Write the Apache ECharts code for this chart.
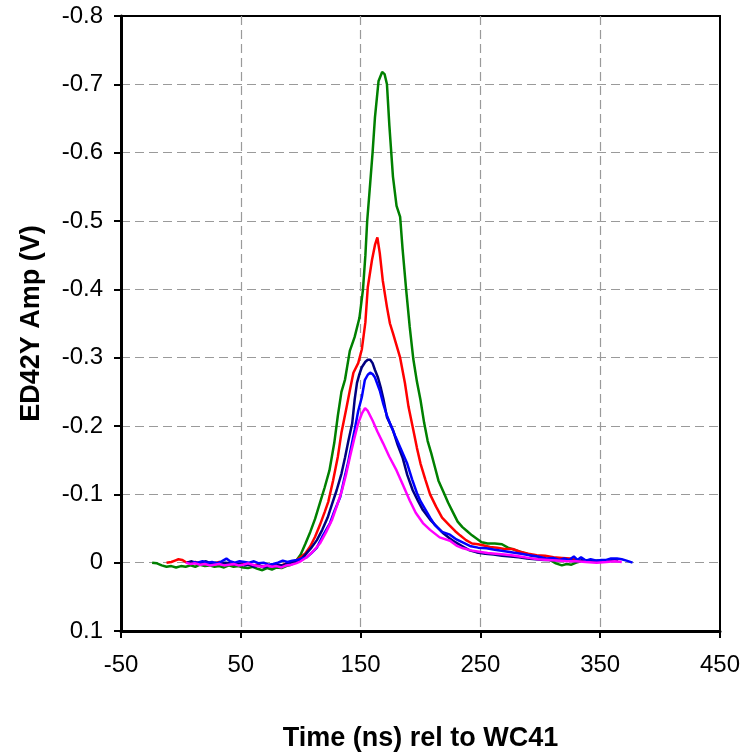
<!DOCTYPE html>
<html>
<head>
<meta charset="utf-8">
<script src="https://cdn.jsdelivr.net/npm/echarts@6/dist/echarts.min.js"></script>
<style>
html,body{margin:0;padding:0;background:#fff;}
#chart{width:753px;height:753px;}
</style>
</head>
<body>
<div id="chart"></div>
<script>
const xTicks = [-50, 50, 150, 250, 350, 450];
const yTicks = [-0.8, -0.7, -0.6, -0.5, -0.4, -0.3, -0.2, -0.1, 0, 0.1];
const seriesNames = ['green', 'red', 'navy', 'blue', 'magenta'];

const greenData = [[-24,0],[-20,0.001],[-16,0.004],[-12,0.006],[-8,0.005],[-4,0.007],[0,0.005],[4,0.006],[8,0.004],[12,0.006],[16,0.003],[20,0.005],[24,0.004],[28,0.006],[32,0.005],[36,0.007],[40,0.004],[44,0.006],[48,0.005],[52,0.007],[56,0.008],[60,0.006],[64,0.009],[68,0.011],[72,0.008],[76,0.010],[80,0.007],[84,0.008],[88,0.005],[92,0.003],[96,-0.002],[100,-0.012],[104,-0.028],[108,-0.045],[112,-0.064],[116,-0.087],[120,-0.110],[124,-0.135],[128,-0.175],[131,-0.215],[134,-0.250],[137,-0.268],[141,-0.310],[145,-0.330],[149,-0.358],[152,-0.400],[154,-0.450],[155.5,-0.500],[158,-0.555],[160,-0.600],[162,-0.652],[165,-0.705],[168,-0.718],[170,-0.715],[172,-0.700],[174,-0.640],[177,-0.565],[180,-0.522],[183,-0.506],[185,-0.460],[188,-0.400],[191,-0.345],[194,-0.298],[197,-0.265],[200,-0.238],[203,-0.205],[206,-0.178],[209,-0.160],[212,-0.140],[215,-0.120],[219,-0.104],[223,-0.088],[227,-0.074],[231,-0.060],[235,-0.052],[239,-0.046],[243,-0.040],[247,-0.035],[251,-0.030],[256,-0.028],[262,-0.028],[268,-0.027],[273,-0.022],[278,-0.019],[283,-0.016],[288,-0.013],[293,-0.010],[298,-0.009],[303,-0.006],[308,-0.004],[313,0.001],[318,0.004],[322,0.002],[326,0.003],[330,0.000],[334,-0.002]];

const redData = [[-12,0.000],[-8,-0.001],[-5,-0.003],[-2,-0.005],[1,-0.004],[4,-0.001],[8,0.000],[12,-0.001],[16,0.001],[20,0.000],[24,0.002],[28,0.001],[32,-0.001],[36,0.002],[40,0.001],[44,0.003],[48,0.002],[52,0.001],[56,0.003],[60,0.004],[64,0.003],[68,0.006],[72,0.004],[76,0.005],[80,0.003],[84,0.004],[88,0.001],[92,0.000],[96,-0.003],[100,-0.008],[104,-0.014],[108,-0.024],[112,-0.038],[116,-0.055],[120,-0.074],[123,-0.089],[127,-0.120],[131,-0.155],[134,-0.190],[138,-0.225],[141,-0.252],[144,-0.278],[148,-0.292],[151,-0.312],[154,-0.352],[156,-0.403],[159.5,-0.443],[162,-0.465],[164,-0.476],[166,-0.453],[168.5,-0.413],[172,-0.374],[174.5,-0.350],[177,-0.336],[180,-0.318],[183,-0.300],[187,-0.263],[190,-0.228],[194,-0.194],[197,-0.168],[200,-0.145],[204,-0.122],[208,-0.100],[213,-0.082],[218,-0.066],[224,-0.055],[229,-0.046],[233,-0.040],[238,-0.033],[243,-0.028],[248,-0.027],[253,-0.025],[258,-0.023],[264,-0.022],[270,-0.020],[277,-0.020],[283,-0.016],[290,-0.013],[297,-0.011],[304,-0.010],[311,-0.008],[318,-0.007],[325,-0.006],[330,-0.005]];

const navyData = [[5,0.000],[9,-0.002],[13,0.001],[17,0.000],[21,-0.002],[25,0.001],[29,0.000],[33,0.002],[37,0.000],[41,0.001],[45,0.003],[49,0.002],[53,0.004],[57,0.003],[61,0.006],[65,0.004],[69,0.007],[73,0.005],[77,0.006],[81,0.003],[85,0.004],[89,0.001],[93,0.000],[97,-0.002],[101,-0.006],[105,-0.014],[109,-0.022],[113.5,-0.033],[118,-0.048],[122.5,-0.066],[126,-0.085],[130,-0.106],[134,-0.130],[137,-0.154],[140,-0.180],[143,-0.204],[145,-0.238],[147,-0.263],[149,-0.276],[151,-0.286],[154,-0.294],[156,-0.297],[158,-0.297],[160,-0.292],[162,-0.282],[164.5,-0.271],[167,-0.255],[169,-0.240],[172,-0.213],[177,-0.194],[181,-0.172],[185,-0.154],[189,-0.128],[193.5,-0.106],[198,-0.090],[202,-0.077],[208,-0.063],[214,-0.052],[219,-0.043],[224,-0.036],[229,-0.030],[235,-0.024],[241,-0.018],[247,-0.015],[254,-0.013],[261,-0.012],[268,-0.010],[275,-0.009],[282,-0.008],[289,-0.006],[296,-0.005],[303,-0.004],[310,-0.004],[317,-0.003],[324,-0.003],[330,-0.002],[336,-0.004],[342,-0.002],[348,-0.003],[354,-0.002],[360,-0.004],[365,-0.003]];

const blueData = [[10,-0.001],[14,0.000],[18,-0.002],[22,0.000],[26,-0.001],[30,0.001],[34,-0.002],[38,-0.006],[41,-0.002],[45,0.000],[49,-0.002],[53,-0.001],[57,0.000],[61,-0.002],[65,0.001],[69,0.000],[73,0.003],[77,0.002],[81,0.000],[85,-0.003],[89,-0.001],[93,-0.003],[97,-0.004],[101,-0.006],[105,-0.008],[109,-0.014],[113.5,-0.022],[118,-0.038],[124.5,-0.058],[128,-0.075],[133,-0.096],[136,-0.120],[139.5,-0.146],[142,-0.168],[145,-0.194],[148,-0.222],[151,-0.242],[153.5,-0.267],[156,-0.275],[158,-0.278],[160,-0.276],[162,-0.271],[166,-0.252],[169,-0.232],[172,-0.215],[174.5,-0.204],[179,-0.185],[184,-0.165],[188.7,-0.146],[193,-0.122],[197,-0.102],[200,-0.090],[204,-0.078],[208,-0.066],[212,-0.055],[218,-0.045],[224.6,-0.041],[230,-0.034],[236,-0.029],[242,-0.024],[248,-0.022],[255,-0.021],[262,-0.019],[269,-0.017],[277,-0.015],[284,-0.013],[291,-0.011],[298,-0.009],[305,-0.006],[311,-0.007],[316,-0.004],[320,-0.006],[324,-0.004],[328,-0.009],[331,-0.004],[334,-0.008],[338,-0.003],[342,-0.005],[347,-0.003],[351,-0.004],[355,-0.004],[359,-0.006],[364,-0.006],[368,-0.005],[372,-0.003],[377,0.000]];

const magentaData = [[4,0.000],[8,0.002],[12,0.001],[16,0.003],[20,0.002],[24,0.004],[28,0.003],[32,0.002],[36,0.004],[40,0.003],[44,0.002],[48,0.004],[52,0.003],[56,0.001],[60,0.003],[64,0.005],[68,0.006],[72,0.004],[76,0.006],[80,0.005],[84,0.007],[88,0.004],[92,0.003],[96,0.001],[100,-0.002],[105,-0.008],[110,-0.016],[116,-0.028],[121,-0.044],[126,-0.062],[130,-0.082],[134.5,-0.106],[138,-0.130],[141,-0.154],[144.5,-0.180],[148,-0.204],[151,-0.218],[153.7,-0.226],[156,-0.222],[160,-0.208],[164,-0.192],[168.7,-0.175],[174,-0.155],[180,-0.135],[185,-0.115],[191,-0.091],[196,-0.073],[202,-0.058],[208,-0.048],[216,-0.037],[224.6,-0.032],[230,-0.025],[235.5,-0.021],[242,-0.018],[249,-0.016],[256,-0.014],[263,-0.013],[270,-0.012],[276,-0.011],[283,-0.009],[290,-0.007],[298,-0.005],[306,-0.004],[314,-0.003],[322,-0.002],[330,-0.002],[338,-0.001],[347,0.000],[355,-0.001],[362,-0.002],[368,-0.001]];

const seriesData = [greenData, redData, navyData, blueData, magentaData];
const seriesColors = ['#008000', '#FF0000', '#000080', '#0000FF', '#FF00FF'];

const font = '"Liberation Sans", Arial, sans-serif';
const chart = echarts.init(document.getElementById('chart'), null, {renderer: 'canvas'});
chart.setOption({
  animation: false,
  backgroundColor: '#fff',
  grid: {left: 121, right: 33, top: 16, bottom: 122, containLabel: false, outerBoundsMode: 'none',
    show: true, borderColor: '#000', borderWidth: 2, backgroundColor: 'transparent'},
  xAxis: {
    type: 'value', min: xTicks[0], max: xTicks[xTicks.length - 1], interval: 100,
    name: 'Time (ns) rel to WC41', nameLocation: 'middle', nameGap: 94,
    nameTextStyle: {fontFamily: font, fontSize: 27, fontWeight: 'bold', color: '#000'},
    axisLine: {onZero: false, lineStyle: {color: '#000', width: 3}},
    axisTick: {show: true, length: 7, lineStyle: {color: '#000', width: 2}},
    axisLabel: {fontFamily: font, fontSize: 24, color: '#000', margin: 22},
    splitLine: {show: true, showMinLine: false, showMaxLine: false, lineStyle: {color: '#9a9a9a', type: [9, 5], width: 1.2}}
  },
  yAxis: {
    type: 'value', inverse: true, min: yTicks[0], max: yTicks[yTicks.length - 1], interval: 0.1,
    name: 'ED42Y Amp (V)', nameLocation: 'middle', nameGap: 76,
    nameTextStyle: {fontFamily: font, fontSize: 27, fontWeight: 'bold', color: '#000'},
    axisLine: {onZero: false, lineStyle: {color: '#000', width: 3}},
    axisTick: {show: true, length: 7, lineStyle: {color: '#000', width: 2}},
    axisLabel: {fontFamily: font, fontSize: 24, color: '#000', margin: 18,
      formatter: v => { const r = Math.round(v * 10) / 10; return r === 0 ? '0' : r.toFixed(1); }},
    splitLine: {show: true, showMinLine: false, showMaxLine: false, lineStyle: {color: '#9a9a9a', type: [9, 5], width: 1.2}}
  },
  series: seriesNames.map((n, i) => ({
    name: n, type: 'line', data: seriesData[i], showSymbol: false, symbol: 'none',
    lineStyle: {color: seriesColors[i], width: 2.5}, z: 3 + i
  }))
});
</script>
</body>
</html>
